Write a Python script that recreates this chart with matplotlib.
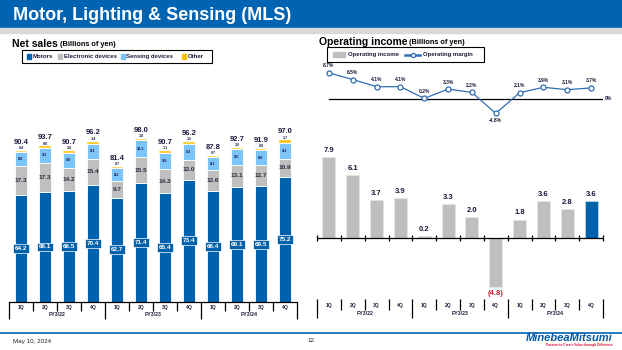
import matplotlib
matplotlib.use('Agg')
import matplotlib.pyplot as plt
from matplotlib.patches import Rectangle
from matplotlib.lines import Line2D
import matplotlib.transforms as mtrans
import numpy as np

plt.rcParams['font.family'] = ['Liberation Sans', 'DejaVu Sans']

# ---------------- data ----------------
quarters = ['1Q', '2Q', '3Q', '4Q'] * 3
fiscal_years = ['FY3/22', 'FY3/23', 'FY3/24']
motors = [64.2, 66.1, 66.5, 70.4, 62.7, 71.4, 65.4, 73.4, 66.4, 69.1, 69.5, 75.2]
electronic = [17.3, 17.3, 14.2, 15.4, 9.7, 15.5, 14.3, 12.0, 12.6, 13.1, 12.7, 10.9]
sensing = [8.8, 9.3, 9.0, 9.1, 8.2, 10.1, 9.9, 9.3, 8.1, 9.5, 8.9, 9.2]
other = [0.4, 0.8, 1.0, 1.4, 0.7, 1.0, 1.1, 1.5, 0.7, 1.0, 0.8, 1.7]
totals = [90.4, 93.7, 90.7, 96.2, 81.4, 98.0, 90.7, 96.2, 87.8, 92.7, 91.9, 97.0]
op_income = [7.9, 6.1, 3.7, 3.9, 0.2, 3.3, 2.0, -4.8, 1.8, 3.6, 2.8, 3.6]
op_margin = [8.7, 6.5, 4.1, 4.1, 0.2, 3.3, 2.2, -4.8, 2.1, 3.9, 3.1, 3.7]

# ---------------- style ----------------
BLUE = '#0061AD'
HEADER = '#0064B3'
GRAY = '#BFBFBF'
LIGHT = '#7CC3F6'
ORANGE = '#FFC000'
LINEBLUE = '#2F6DB5'
TXT = '#1A1A3A'

W, H = 622, 350
fig = plt.figure(figsize=(W / 100, H / 100), dpi=100)


def ax_px(x0, y0, x1, y1):
    return fig.add_axes([x0 / W, 1 - y1 / H, (x1 - x0) / W, (y1 - y0) / H])


def fx(x):
    return x / W


def fy(y):
    return 1 - y / H


# header
fig.add_artist(Rectangle((0, fy(28)), 1, 28 / H, transform=fig.transFigure,
                         color=HEADER, zorder=0))
fig.add_artist(Rectangle((0, fy(33)), 1, 5 / H, transform=fig.transFigure,
                         color='#D9D9D9', zorder=0))
fig.text(fx(13), fy(15), 'Motor, Lighting & Sensing (MLS)', color='white',
         fontsize=13, fontweight='bold', va='center', ha='left')

# footer
fig.add_artist(Line2D([0, 1], [fy(332.5), fy(332.5)], transform=fig.transFigure,
                      color=HEADER, lw=1.2))
fig.text(fx(13), fy(341), 'May 10, 2024', fontsize=4.5, va='center', color='#222222')
fig.text(fx(311), fy(341), '12', fontsize=4.5, va='center', ha='center', color='#222222')
fig.text(fx(613), fy(338), 'MinebeaMitsumi', fontsize=8, fontweight='bold',
         fontstyle='italic', color='#0058A8', ha='right', va='center')
fig.text(fx(613), fy(345), 'Passion to Create Value through Difference', fontsize=2.3,
         fontweight='bold', color='#D0103A', ha='right', va='center')

# section titles
t1 = fig.text(fx(12), fy(44), 'Net sales', fontsize=7.5, fontweight='bold', va='center')
fig.text(fx(60), fy(44.5), '(Billions of yen)', fontsize=5.3, fontweight='bold', va='center')
fig.text(fx(319), fy(42), 'Operating income', fontsize=7.5, fontweight='bold', va='center')
fig.text(fx(409), fy(42.5), '(Billions of yen)', fontsize=5.3, fontweight='bold', va='center')

# left legend
fig.add_artist(Rectangle((fx(22), fy(63)), (212 - 22) / W, 13 / H, transform=fig.transFigure,
                         fill=False, ec='black', lw=0.8))
for xs, col, lab in [(27, BLUE, 'Motors'), (58, GRAY, 'Electronic devices'),
                     (121, LIGHT, 'Sensing devices'), (182, ORANGE, 'Other')]:
    fig.add_artist(Rectangle((fx(xs), fy(58.5)), 4 / W, 4 / H, transform=fig.transFigure,
                             color=col))
    fig.text(fx(xs + 5.5), fy(56.5), lab, fontsize=4.3, fontweight='bold', va='center',
             color=TXT)

# right legend
fig.add_artist(Rectangle((fx(327), fy(62)), (484 - 327) / W, 15 / H, transform=fig.transFigure,
                         fill=False, ec='black', lw=0.8))
fig.add_artist(Rectangle((fx(333), fy(56.5)), 12 / W, 4 / H, transform=fig.transFigure,
                         color=GRAY))
fig.text(fx(347.5), fy(54.5), 'Operating income', fontsize=4.3, fontweight='bold', va='center',
         color=TXT)
fig.add_artist(Line2D([fx(405), fx(420)], [fy(54.5), fy(54.5)], transform=fig.transFigure,
                      color=LINEBLUE, lw=1.8, marker='o', markevery=[], zorder=5))
fig.add_artist(Line2D([fx(412.5)], [fy(54.5)], transform=fig.transFigure, color=LINEBLUE,
                      marker='o', ms=3, mfc='white', mec=LINEBLUE, mew=0.9, ls='none', zorder=6))
fig.text(fx(423), fy(54.5), 'Operating margin', fontsize=4.3, fontweight='bold', va='center',
         color=TXT)

x = np.arange(len(quarters))


def draw_categories(ax, q_frac, label_q, label_fy):
    ax.set_xlim(-0.5, len(quarters) - 0.5)
    ax.set_ylim(1, 0)
    ax.axis('off')
    for i in range(len(quarters) + 1):
        b = i - 0.5
        is_group = (i % 4 == 0)
        ax.plot([b, b], [0, 1 if is_group else q_frac], color='black', lw=0.9,
                clip_on=False, solid_capstyle='butt')
    for i, q in enumerate(quarters):
        ax.text(i, label_q, q, fontsize=3.6, fontweight='bold', ha='center', va='center',
                color=TXT)
    for g, fy_lab in enumerate(fiscal_years):
        ax.text(g * 4 + 1.5, label_fy, fy_lab, fontsize=3.8, fontweight='bold', ha='center',
                va='center', color=TXT)


# ---------------- left: net sales ----------------
ax1 = ax_px(9, 62, 297, 302)
ax1.set_xlim(-0.5, len(quarters) - 0.5)
ax1.set_ylim(0, 144)
for s in ['top', 'left', 'right']:
    ax1.spines[s].set_visible(False)
ax1.spines['bottom'].set_linewidth(0.9)
ax1.set_xticks([])
ax1.set_yticks([])
ax1.patch.set_alpha(0)

m = np.array(motors)
e = np.array(electronic)
s_ = np.array(sensing)
o = np.array(other)
bw = 0.5
ax1.bar(x, m, bw, color=BLUE, edgecolor='white', linewidth=0.6)
ax1.bar(x, e, bw, bottom=m, color=GRAY, edgecolor='white', linewidth=0.6)
ax1.bar(x, s_, bw, bottom=m + e, color=LIGHT, edgecolor='white', linewidth=0.6)
ax1.bar(x, o, bw, bottom=m + e + s_, color=ORANGE, edgecolor='white', linewidth=0.3)

for i in range(len(x)):
    ax1.text(i, m[i] / 2, f'{m[i]:.1f}', color='white', fontsize=4.6, fontweight='bold',
             ha='center', va='center',
             bbox=dict(boxstyle='square,pad=0.3', fc=BLUE, ec='white', lw=0.5))
    ax1.text(i, m[i] + e[i] / 2, f'{e[i]:.1f}', color='#2A2A40', fontsize=4.6,
             fontweight='bold', ha='center', va='center')
    ax1.text(i, m[i] + e[i] + s_[i] / 2, f'{s_[i]:.1f}', color='#1A1A50', fontsize=2.8,
             fontweight='bold', ha='center', va='center')
    top = m[i] + e[i] + s_[i] + o[i]
    ax1.annotate(f'{o[i]:.1f}', (i, top), xytext=(0, 0.3), textcoords='offset points',
                 fontsize=2.6, fontweight='bold', ha='center', va='bottom', color='#1A1A50')
    ax1.annotate(f'{totals[i]:.1f}', (i, top), xytext=(0, 3.6), textcoords='offset points',
                 fontsize=5.5, fontweight='bold', ha='center', va='bottom', color=TXT)

axc1 = ax_px(9, 302, 297, 319)
draw_categories(axc1, 9 / 17, 5 / 17, 13 / 17)

# ---------------- right top: operating margin ----------------
ax2 = ax_px(317, 62, 603, 130)
ax2.set_xlim(-0.5, len(quarters) - 0.5)
ax2.set_ylim(-(130 - 99) / 3, (99 - 62) / 3)
ax2.axis('off')
ax2.axhline(0, xmin=0.5 / len(quarters), xmax=1, color='black', lw=0.9)
ax2.plot(x, op_margin, color=LINEBLUE, lw=0.9, marker='o', ms=3.6, mfc='white',
         mec=LINEBLUE, mew=0.9, zorder=3)
for i, v in enumerate(op_margin):
    if v >= 0:
        ax2.annotate(f'{v:.1f}%', (i, v), xytext=(0, 3.2), textcoords='offset points',
                     fontsize=3.6, fontweight='bold', ha='center', va='bottom', color=TXT)
    else:
        ax2.annotate(f'{v:.1f}%', (i, v), xytext=(0, -3.2), textcoords='offset points',
                     fontsize=3.6, fontweight='bold', ha='center', va='top', color=TXT)
ax2.text(1.005, 0, '0%', transform=mtrans.blended_transform_factory(ax2.transAxes, ax2.transData),
         fontsize=3.6, fontweight='bold', ha='left', va='center', color=TXT)

# ---------------- right bottom: operating income ----------------
ax3 = ax_px(317, 140, 603, 300)
ax3.set_xlim(-0.5, len(quarters) - 0.5)
ax3.set_ylim(-(300 - 238) / 10.25, (238 - 140) / 10.25)
ax3.axis('off')
bar_colors = [GRAY] * (len(op_income) - 1) + [BLUE]
ax3.bar(x, op_income, 0.55, color=bar_colors, edgecolor='#E6E6E6', linewidth=0.4)
ax3.axhline(0, color='black', lw=0.9)
bounds = np.arange(len(quarters) + 1) - 0.5
ax3.plot(bounds, np.zeros_like(bounds), ls='none', marker='|', ms=4.5, mew=0.9,
         color='black', clip_on=False)
for i, v in enumerate(op_income):
    if v >= 0:
        ax3.annotate(f'{v:.1f}', (i, v), xytext=(0, 2.2), textcoords='offset points',
                     fontsize=5.5, fontweight='bold', ha='center', va='bottom', color=TXT)
    else:
        ax3.annotate(f'({abs(v):.1f})', (i, v), xytext=(0, -2.2), textcoords='offset points',
                     fontsize=5.5, fontweight='bold', ha='center', va='top', color='#E8103A')

axc2 = ax_px(317, 299, 603, 318)
draw_categories(axc2, 11 / 19, 7 / 19, 14.5 / 19)

fig.savefig('out.png', dpi=100)
